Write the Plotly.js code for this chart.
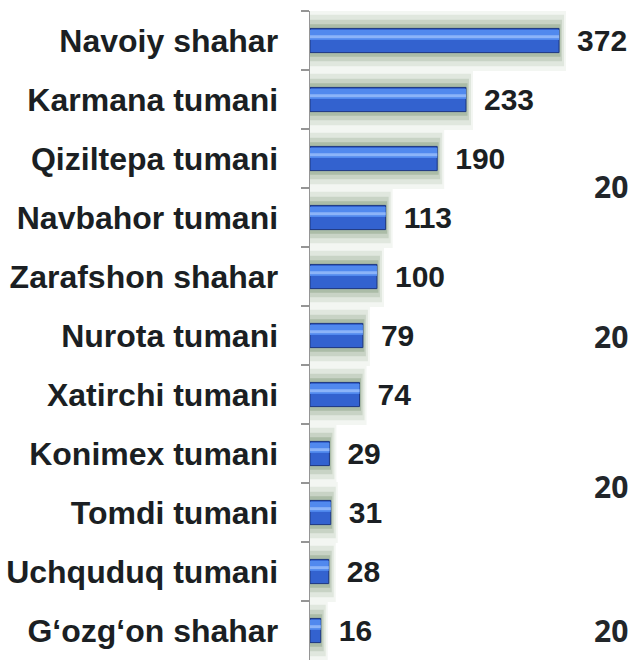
<!DOCTYPE html>
<html>
<head>
<meta charset="utf-8">
<script src="https://cdn.plot.ly/plotly-3.0.1.min.js"></script>
<style>
  html, body { margin: 0; padding: 0; background: #ffffff; }
  #chart { width: 630px; height: 660px; }
</style>
</head>
<body>
<div id="chart"></div>
<script>
const categories = [
  'Navoiy shahar',
  'Karmana tumani',
  'Qiziltepa tumani',
  'Navbahor tumani',
  'Zarafshon shahar',
  'Nurota tumani',
  'Xatirchi tumani',
  'Konimex tumani',
  'Tomdi tumani',
  'Uchquduq tumani',
  'G\u2018ozg\u2018on shahar'
];
const values = [372, 233, 190, 113, 100, 79, 74, 29, 31, 28, 16];
const sideLabels = ['20', '20', '20', '20'];
const sideLabelY = [0.729, 0.498, 0.267, 0.046];

function layer(width, color, lineColor, lineWidth, offset, withText) {
  const t = {
    type: 'bar',
    orientation: 'h',
    y: categories,
    x: values,
    width: width,
    marker: { color: color, line: { color: lineColor, width: lineWidth } },
    hoverinfo: 'skip',
    showlegend: false
  };
  if (offset !== null) t.offset = offset;
  if (withText) {
    t.texttemplate = '\u2002%{x}';
    t.textposition = 'outside';
    t.cliponaxis = false;
    t.constraintext = 'none';
    t.textfont = { family: 'Liberation Sans, Arial, sans-serif', size: 30, weight: 700, color: '#1b1f23' };
  }
  return t;
}

const data = [
  layer(0.80, '#f3f6f2', '#f3f6f2', 14, null, false),
  layer(0.70, '#e0e7de', '#e0e7de', 10, null, false),
  layer(0.60, '#c8d3c5', '#c8d3c5', 6, null, false),
  layer(0.50, '#abbca7', '#abbca7', 3, null, false),
  layer(0.41, '#3362cf', '#1c3680', 1, null, true),
  layer(0.17, '#5189ee', '#5189ee', 0, -0.18, false),
  layer(0.05, '#8cb4f8', '#8cb4f8', 0, -0.09, false)
];

const annotations = sideLabels.map((s, i) => ({
  xref: 'paper', yref: 'paper',
  x: 1, y: sideLabelY[i],
  xanchor: 'right', yanchor: 'middle',
  text: s, showarrow: false,
  font: { family: 'Open Sans, Noto Sans, sans-serif', size: 30, weight: 700, color: '#22262a' }
}));

const layout = {
  width: 630,
  height: 660,
  margin: { l: 310, r: 0, t: 11, b: 0, pad: 0 },
  paper_bgcolor: '#ffffff',
  plot_bgcolor: '#ffffff',
  barmode: 'overlay',
  xaxis: {
    range: [0, 478],
    visible: false,
    fixedrange: true
  },
  yaxis: {
    type: 'category',
    autorange: 'reversed',
    showline: true,
    linecolor: '#959595',
    linewidth: 1.5,
    ticks: 'outside',
    ticklen: 8,
    tickwidth: 1.5,
    tickcolor: '#959595',
    tickson: 'boundaries',
    ticklabelstandoff: 24,
    showgrid: false,
    zeroline: false,
    tickfont: { family: 'Liberation Sans, Arial, sans-serif', size: 32, weight: 700, color: '#1b1f23' },
    fixedrange: true
  },
  annotations: annotations
};

Plotly.newPlot('chart', data, layout, { staticPlot: true, displayModeBar: false });
</script>
</body>
</html>
